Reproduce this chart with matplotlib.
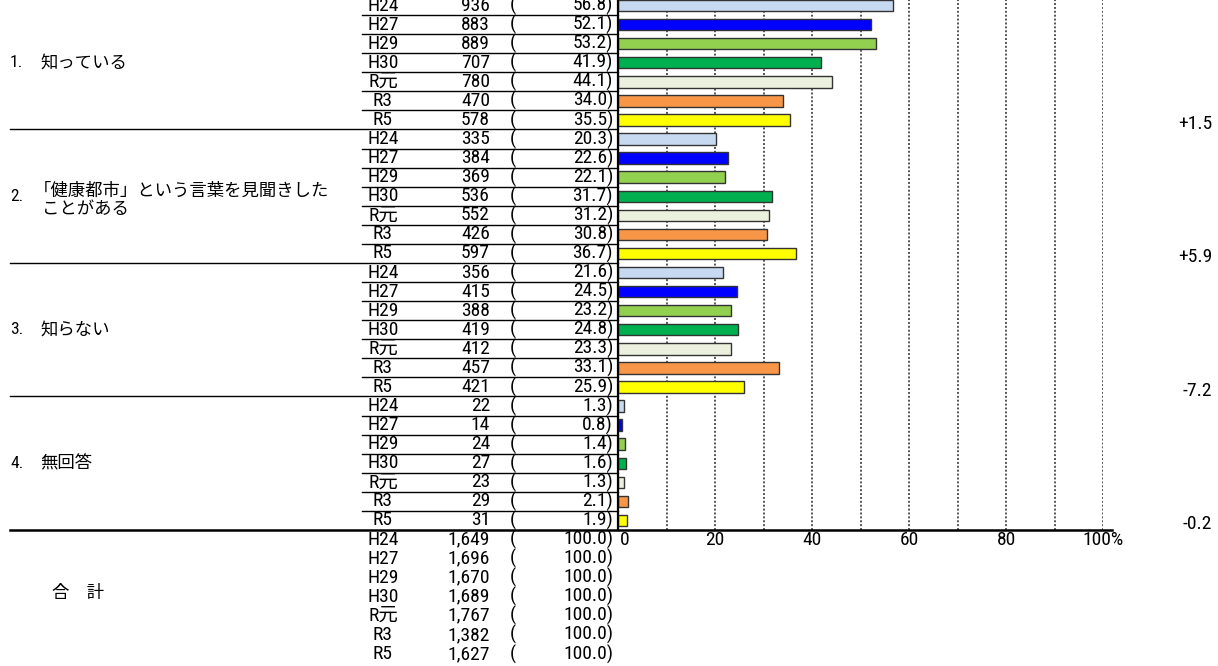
import matplotlib
matplotlib.use("Agg")
import matplotlib.pyplot as plt
from matplotlib import transforms
from matplotlib.lines import Line2D

# ---------------- data ----------------
years = ['H24', 'H27', 'H29', 'H30', 'R元', 'R3', 'R5']
group_nums = ['1.', '2.', '3.', '4.']
group_labels = ['知っている', '「健康都市」という言葉を見聞きした\nことがある', '知らない', '無回答']
counts_1 = [936, 883, 889, 707, 780, 470, 578]
pct_1 = [56.8, 52.1, 53.2, 41.9, 44.1, 34.0, 35.5]
counts_2 = [335, 384, 369, 536, 552, 426, 597]
pct_2 = [20.3, 22.6, 22.1, 31.7, 31.2, 30.8, 36.7]
counts_3 = [356, 415, 388, 419, 412, 457, 421]
pct_3 = [21.6, 24.5, 23.2, 24.8, 23.3, 33.1, 25.9]
counts_4 = [22, 14, 24, 27, 23, 29, 31]
pct_4 = [1.3, 0.8, 1.4, 1.6, 1.3, 2.1, 1.9]
totals = [1649, 1696, 1670, 1689, 1767, 1382, 1627]
total_pct = [100.0] * 7
total_label = '合　計'
diffs = ['+1.5', '+5.9', '-7.2', '-0.2']
xticks = [0, 20, 40, 60, 80, 100]
xtick_labels = ['0', '20', '40', '60', '80', '100%']
colors = ['#C6D9F1', '#0000FF', '#92D050', '#00B050', '#EBF1DE', '#F79646', '#FFFF00']

counts = [counts_1, counts_2, counts_3, counts_4]
pcts = [pct_1, pct_2, pct_3, pct_4]

# ---------------- figure ----------------
W, H = 1218, 666
fig = plt.figure(figsize=(W / 100, H / 100), dpi=100)
num_font = ['Liberation Sans Narrow', 'Roboto Condensed', 'Archivo Narrow',
            'Noto Sans CJK JP', 'DejaVu Sans']
jp_font = ['Noto Sans CJK JP', 'DejaVu Sans']

top_px, bot_px = -4, 530
x0_px, x100_px = 618, 1103
ax = fig.add_axes([x0_px / W, (H - bot_px) / H, (x100_px - x0_px) / W, (bot_px - top_px) / H])
ax.set_xlim(0, 100)
ax.set_ylim(28, 0)
for s in ax.spines.values():
    s.set_visible(False)
ax.set_yticks([])
ax.set_xticks(xticks)
ax.set_xticklabels(xtick_labels, fontsize=14, family=num_font)
ax.tick_params(axis='x', length=0, pad=1)

# grid lines
for g in range(10, 101, 10):
    ax.axvline(g, color='#555555', lw=1.4, ls=(0, (1, 1)), zorder=0)

bt = transforms.blended_transform_factory(fig.transFigure, ax.transData)
fx = lambda px: px / W

fs = 14
jfs = 12.5
for gi in range(4):
    base = gi * 7
    for yi in range(7):
        row = base + yi
        yc = row + 0.5
        ax.barh(yc, pcts[gi][yi], height=0.6, color=colors[yi], edgecolor='#333333',
                linewidth=1.0, zorder=2)
        fig.text(fx(383), yc, years[yi], transform=bt, ha='center', va='center',
                 fontsize=fs, family=num_font)
        fig.text(fx(490), yc, f'{counts[gi][yi]:,}', transform=bt, ha='right', va='center',
                 fontsize=fs, family=num_font)
        fig.text(fx(513), yc, '(', transform=bt, ha='center', va='center',
                 fontsize=fs, family=num_font)
        fig.text(fx(613), yc, f'{pcts[gi][yi]:.1f})', transform=bt, ha='right', va='center',
                 fontsize=fs, family=num_font)
        if yi < 6:
            fig.add_artist(Line2D([fx(362), fx(618)], [row + 1, row + 1], transform=bt,
                                  color='black', lw=1.0))
    if gi < 3:
        fig.add_artist(Line2D([fx(10), fx(618)], [base + 7, base + 7], transform=bt,
                              color='black', lw=1.0))
    yc = base + 3.5
    fig.text(fx(10), yc, group_nums[gi], transform=bt, ha='left', va='center',
             fontsize=jfs, family=num_font)
    lines = group_labels[gi].split('\n')
    if len(lines) == 1:
        fig.text(fx(40), yc, lines[0], transform=bt, ha='left', va='center',
                 fontsize=jfs, family=jp_font)
    else:
        for li, txt in enumerate(lines):
            xpx = 34 if txt.startswith('「') else 42
            fig.text(fx(xpx), yc - 0.3 + li * 0.95, txt, transform=bt, ha='left',
                     va='center', fontsize=jfs, family=jp_font)
    fig.text(fx(1212), base + 6.7, diffs[gi], transform=bt, ha='right', va='center',
             fontsize=fs, family=num_font)

# totals
for yi in range(7):
    yc = 28 + yi + 0.5
    fig.text(fx(383), yc, years[yi], transform=bt, ha='center', va='center',
             fontsize=fs, family=num_font)
    fig.text(fx(490), yc, f'{totals[yi]:,}', transform=bt, ha='right', va='center',
             fontsize=fs, family=num_font)
    fig.text(fx(513), yc, '(', transform=bt, ha='center', va='center',
             fontsize=fs, family=num_font)
    fig.text(fx(613), yc, f'{total_pct[yi]:.1f})', transform=bt, ha='right', va='center',
             fontsize=fs, family=num_font)
fig.text(fx(52), 31.3, total_label, transform=bt, ha='left', va='center',
         fontsize=jfs, family=jp_font)

# axis lines
fig.add_artist(Line2D([fx(618), fx(618)], [0, 28], transform=bt, color='black', lw=1.6))
fig.add_artist(Line2D([fx(10), fx(1112)], [28, 28], transform=bt, color='black', lw=1.8))

# nudge the "0" tick label right of the axis line, as in the reference
fig.canvas.draw()
lbl0 = ax.get_xticklabels()[0]
lbl0.set_transform(lbl0.get_transform() + transforms.ScaledTranslation(7 / 100, 0, fig.dpi_scale_trans))

fig.savefig('out.png', dpi=100)
